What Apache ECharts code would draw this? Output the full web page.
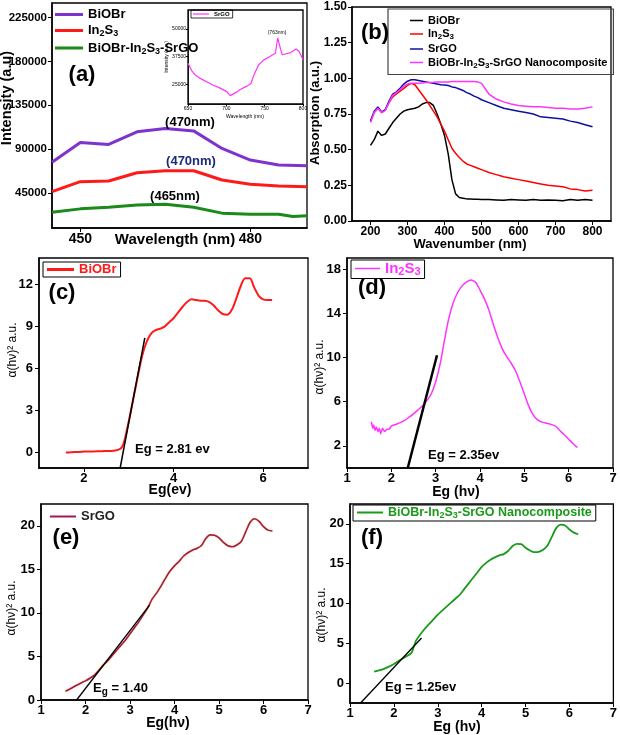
<!DOCTYPE html>
<html><head><meta charset="utf-8">
<script src="https://cdn.jsdelivr.net/npm/echarts@6/dist/echarts.min.js"></script>
<style>html,body{margin:0;padding:0;background:#fff}#c{width:620px;height:735px}</style>
</head><body><div id="c"></div>
<script>
// ---------- Panel (a): PL spectra ----------
const aWave = [445,450,455,460,465,470,475,480,485,490];
const aBiOBr = [76400,96850,94800,107700,111170,108700,90700,78750,73640,72900];
const aIn2S3 = [46330,56560,57270,65760,67800,67800,58300,53900,52160,51440];
const aWaveComp = [445,450,455,460,465,470,475,480,485,487.5,490];
const aComp = [25260,28640,30380,32730,33440,30380,24240,23220,23220,20760,21480];
const aXTicks = [450,480];
const aYTicks = [45000,90000,135000,180000,225000];
// inset
const insetWave = [650,655,660,666,675,683,692,701,705,714,718,727,732,736,742,749,758,764,767,771,773,784,791,795,800];
const insetSrGO = [34500,31000,29000,27600,26000,24500,23200,21500,19800,21500,22600,24100,25300,29100,33700,36000,37800,39000,45900,40500,38300,39300,40900,39800,36000];
const insetXTicks = [650,700,750,800];
const insetYTicks = [25000,37500,50000];
// ---------- Panel (b): absorption ----------
const bWave = [200,210,220,230,240,250,260,270,280,290,300,310,320,330,340,350,360,370,380,390,400,410,420,430,440,450,460,470,480,490,500,520,540,560,580,600,620,640,660,680,700,720,740,760,780,800];
const bBiOBr = [0.53,0.57,0.63,0.60,0.61,0.65,0.69,0.72,0.75,0.77,0.78,0.785,0.79,0.80,0.82,0.83,0.83,0.81,0.75,0.68,0.60,0.47,0.29,0.19,0.165,0.16,0.155,0.155,0.153,0.152,0.15,0.15,0.148,0.145,0.15,0.148,0.145,0.15,0.145,0.148,0.145,0.142,0.15,0.145,0.15,0.145];
const bIn2S3 = [0.70,0.76,0.79,0.76,0.78,0.83,0.87,0.89,0.91,0.93,0.95,0.965,0.955,0.92,0.885,0.85,0.81,0.77,0.73,0.68,0.63,0.57,0.51,0.475,0.445,0.42,0.40,0.39,0.38,0.37,0.36,0.34,0.325,0.31,0.30,0.29,0.28,0.27,0.26,0.25,0.245,0.24,0.225,0.22,0.21,0.215];
const bSrGO = [0.70,0.77,0.80,0.765,0.78,0.84,0.89,0.905,0.93,0.96,0.98,0.99,0.99,0.985,0.98,0.975,0.97,0.965,0.96,0.955,0.954,0.95,0.94,0.935,0.925,0.915,0.90,0.89,0.875,0.865,0.85,0.83,0.81,0.79,0.78,0.77,0.76,0.75,0.73,0.725,0.72,0.715,0.70,0.69,0.675,0.66];
const bComp = [0.69,0.76,0.79,0.76,0.775,0.83,0.88,0.90,0.92,0.945,0.96,0.965,0.965,0.965,0.968,0.97,0.97,0.972,0.975,0.975,0.975,0.975,0.978,0.978,0.978,0.978,0.978,0.978,0.978,0.975,0.965,0.89,0.855,0.835,0.82,0.81,0.805,0.80,0.80,0.795,0.79,0.79,0.785,0.785,0.79,0.80];
const bXTicks = [200,300,400,500,600,700,800];
const bYTicks = [0,0.25,0.5,0.75,1.0,1.25,1.5];
// ---------- Panel (c): BiOBr Tauc ----------
const cEg = [1.6,1.8,2.0,2.2,2.4,2.6,2.7,2.8,2.85,2.9,3.0,3.1,3.2,3.3,3.4,3.5,3.6,3.7,3.8,3.9,4.0,4.1,4.2,4.3,4.4,4.5,4.6,4.7,4.8,4.9,5.0,5.1,5.2,5.3,5.4,5.5,5.6,5.7,5.8,5.9,6.0,6.1,6.2];
const cVal = [0.0,0.05,0.07,0.08,0.1,0.12,0.15,0.25,0.4,0.8,2.2,3.8,5.4,6.9,7.9,8.5,8.75,8.85,9.0,9.3,9.6,10.0,10.4,10.75,10.95,10.9,10.85,10.85,10.75,10.5,10.15,9.9,9.85,10.2,11.0,11.9,12.45,12.45,11.8,11.2,10.95,10.9,10.9];
const cTanX = [2.81,3.36], cTanY = [-1.1,8.2];
const cXTicks = [2,4,6], cYTicks = [0,3,6,9,12];
// ---------- Panel (d): In2S3 Tauc ----------
const dEg = [1.55,1.58,1.6,1.63,1.66,1.7,1.73,1.76,1.8,1.85,1.9,1.95,2.0,2.1,2.2,2.3,2.4,2.5,2.6,2.7,2.8,2.9,3.0,3.1,3.2,3.3,3.4,3.5,3.6,3.7,3.8,3.9,4.0,4.1,4.2,4.3,4.4,4.5,4.6,4.7,4.8,4.9,5.0,5.1,5.2,5.3,5.4,5.5,5.6,5.7,5.8,5.9,6.0,6.1,6.2];
const dVal = [4.2,3.6,3.9,3.4,3.7,3.3,3.6,3.1,3.6,3.3,3.5,3.5,3.8,3.95,4.1,4.3,4.6,4.9,5.25,5.6,6.1,6.7,7.8,9.4,11.6,13.6,15.0,15.9,16.5,16.85,17.0,16.8,16.1,15.3,14.3,13.0,11.8,10.8,10.1,9.5,8.8,7.8,6.7,5.6,4.8,4.35,4.15,4.05,3.95,3.8,3.4,3.0,2.6,2.2,1.85];
const dTanX = [2.37,3.03], dTanY = [0,10.2];
const dXTicks = [1,2,3,4,5,6,7], dYTicks = [2,6,10,14,18];
// ---------- Panel (e): SrGO Tauc ----------
const eEg = [1.55,1.7,1.8,1.9,2.0,2.1,2.2,2.3,2.4,2.5,2.6,2.7,2.8,2.9,3.0,3.1,3.2,3.3,3.4,3.5,3.6,3.7,3.8,3.9,4.0,4.1,4.2,4.3,4.4,4.5,4.6,4.7,4.8,4.9,5.0,5.1,5.2,5.3,5.4,5.5,5.6,5.7,5.8,5.9,6.0,6.1,6.2];
const eVal = [1.0,1.4,1.7,1.95,2.2,2.5,2.85,3.4,4.0,4.5,5.1,5.7,6.3,6.9,7.6,8.3,9.0,9.8,10.6,11.6,12.3,13.1,14.0,14.8,15.4,15.9,16.5,16.9,17.2,17.4,17.7,18.5,18.95,18.9,18.6,18.1,17.7,17.6,17.8,18.2,19.3,20.4,20.8,20.5,19.9,19.5,19.4];
const eTanX = [1.80,3.44], eTanY = [0,10.9];
const eXTicks = [1,2,3,4,5,6,7], eYTicks = [0,5,10,15,20];
// ---------- Panel (f): nanocomposite Tauc ----------
const fEg = [1.55,1.7,1.8,1.9,2.0,2.1,2.2,2.3,2.4,2.45,2.5,2.6,2.7,2.8,2.9,3.0,3.1,3.2,3.3,3.4,3.5,3.6,3.7,3.8,3.9,4.0,4.1,4.2,4.3,4.4,4.5,4.6,4.7,4.8,4.9,5.0,5.1,5.2,5.3,5.4,5.5,5.6,5.7,5.8,5.9,6.0,6.1,6.2];
const fVal = [1.45,1.65,1.85,2.1,2.4,2.75,3.1,3.4,3.8,4.5,5.3,6.1,6.8,7.4,8.0,8.6,9.1,9.6,10.1,10.6,11.1,11.8,12.5,13.2,13.9,14.6,15.1,15.5,15.8,16.05,16.2,16.6,17.2,17.5,17.45,17.0,16.65,16.45,16.5,16.75,17.3,18.4,19.5,19.9,19.8,19.3,18.9,18.7];
const fTanX = [1.24,2.63], fTanY = [-2.5,5.67];
const fXTicks = [1,2,3,4,5,6,7], fYTicks = [0,5,10,15,20];

// legend display texts
const legendText = {
  a_BiOBr:'BiOBr', a_In2S3:'In{sub|2}S{sub|3}', a_comp:'BiOBr-In{sub|2}S{sub|3}-SrGO',
  in_SrGO:'SrGO',
  b_BiOBr:'BiOBr', b_In2S3:'In{sub|2}S{sub|3}', b_SrGO:'SrGO', b_comp:'BiOBr-In{sub|2}S{sub|3}-SrGO Nanocomposite',
  c_BiOBr:'BiOBr', d_In2S3:'In{sub|2}S{sub|3}', e_SrGO:'SrGO', f_comp:'BiOBr-In{sub|2}S{sub|3}-SrGO Nanocomposite'
};

const FONT = 'Liberation Sans';
function pairs(xs, ys){ return xs.map((x,i)=>[x, ys[i]]); }

const grids = [
  {left:52, top:3, width:255, height:225},
  {left:188, top:10, width:115, height:94},
  {left:352, top:7, width:259, height:214},
  {left:39, top:258, width:269, height:210},
  {left:347, top:258, width:266, height:210},
  {left:41, top:504, width:267, height:196},
  {left:350, top:504, width:264, height:199}
].map(g => Object.assign({show:true, borderColor:'#000', borderWidth:1.3, containLabel:false}, g));

function axis(gi, min, max, ticks, o) {
  o = o || {};
  return {
    type:'value', gridIndex:gi, min:min, max:max,
    splitLine:{show:false},
    axisLine:{show:true, onZero:false, lineStyle:{color:'#000', width:o.lw||1.5}},
    axisTick:{show:true, customValues:ticks, length:o.tl||4, lineStyle:{color:'#000', width:1}},
    axisLabel:{customValues:ticks, color:'#000', fontFamily:FONT, fontWeight:o.fw||'bold', fontSize:o.fs||13, margin:o.m||4, formatter:o.fmt||(v=>String(v))}
  };
}

const xAxes = [
  axis(0, 445, 490, aXTicks, {fs:14, m:4}),
  axis(1, 650, 800, insetXTicks, {fs:5, fw:'normal', tl:2, lw:0.8, m:2}),
  axis(2, 150, 850, bXTicks, {fs:12, m:5}),
  axis(3, 1, 7, cXTicks, {fs:13}),
  axis(4, 1, 7, dXTicks, {fs:13}),
  axis(5, 1, 7, eXTicks, {fs:13}),
  axis(6, 1, 7, fXTicks, {fs:13})
];
const yAxes = [
  axis(0, 9000, 240000, aYTicks, {fs:11.5, m:5}),
  axis(1, 16000, 58600, insetYTicks, {fs:5, fw:'normal', tl:2, lw:0.8, m:2}),
  axis(2, 0, 1.5, bYTicks, {fs:12, m:5, fmt:v=>v.toFixed(2)}),
  axis(3, -1.1, 13.9, cYTicks, {fs:13, m:6}),
  axis(4, 0, 19, dYTicks, {fs:13, m:6}),
  axis(5, 0, 22.5, eYTicks, {fs:13, m:6}),
  axis(6, -2.5, 22.5, fYTicks, {fs:13, m:6})
];

function line(name, gi, xs, ys, color, width, extra) {
  return Object.assign({
    type:'line', name:name, xAxisIndex:gi, yAxisIndex:gi, data:pairs(xs, ys),
    symbol:'none', showSymbol:false, animation:false,
    lineStyle:{color:color, width:width}, itemStyle:{color:color}
  }, extra||{});
}

const series = [
  line('a_BiOBr', 0, aWave, aBiOBr, '#8033cc', 3),
  line('a_In2S3', 0, aWave, aIn2S3, '#ff1a1a', 3),
  line('a_comp', 0, aWaveComp, aComp, '#1a8a1a', 3),
  line('in_SrGO', 1, insetWave, insetSrGO, '#ff33ff', 1.2),
  line('b_BiOBr', 2, bWave, bBiOBr, '#000000', 1.5),
  line('b_In2S3', 2, bWave, bIn2S3, '#ff0000', 1.5),
  line('b_SrGO', 2, bWave, bSrGO, '#1010a0', 1.5),
  line('b_comp', 2, bWave, bComp, '#ff33ff', 1.5),
  line('c_BiOBr', 3, cEg, cVal, '#ff1a1a', 2, {smooth:0.3}),
  line('c_tan', 3, cTanX, cTanY, '#000000', 1.5),
  line('d_In2S3', 4, dEg, dVal, '#ff33ff', 1.5, {smooth:0.2}),
  line('d_tan', 4, dTanX, dTanY, '#000000', 2.5),
  line('e_SrGO', 5, eEg, eVal, '#a0185a', 1.6, {smooth:0.3, lineStyle:{color:'#a0185a', width:1.6, shadowColor:'rgba(255,220,80,0.9)', shadowBlur:2}}),
  line('e_tan', 5, eTanX, eTanY, '#000000', 1.3),
  line('f_comp', 6, fEg, fVal, '#1a9a1a', 1.8, {smooth:0.3}),
  line('f_tan', 6, fTanX, fTanY, '#000000', 1.3)
];

function sub(color, size, pad) { return {sub:{fontSize:size, fontWeight:'bold', fontFamily:FONT, color:color, padding:[pad,0,0,0]}}; }
function legend(o) {
  return Object.assign({
    orient:'vertical', selectedMode:false, formatter:n=>legendText[n], icon:'rect',
    itemGap:3, itemHeight:3, padding:2, backgroundColor:'transparent'
  }, o);
}
const legends = [
  legend({left:53, top:6, itemWidth:28, itemHeight:3, itemGap:3, data:['a_BiOBr','a_In2S3','a_comp'],
    textStyle:{fontFamily:FONT, fontWeight:'bold', fontSize:13, color:'#000', rich:sub('#000',9,7)}}),
  legend({left:191, top:10, itemWidth:16, itemHeight:1.2, padding:[1,3,1,2], borderColor:'#000', borderWidth:0.8, data:['in_SrGO'],
    textStyle:{fontFamily:FONT, fontWeight:'bold', fontSize:6, color:'#000'}}),
  legend({left:388, top:9, itemWidth:13, itemHeight:1.5, itemGap:2.5, padding:[6,6,5,22], borderColor:'#444', borderWidth:1.2,
    data:['b_BiOBr','b_In2S3','b_SrGO','b_comp'],
    textStyle:{fontFamily:FONT, fontWeight:'bold', fontSize:11, color:'#000', rich:sub('#000',8,6)}}),
  legend({left:43, top:262, itemWidth:27, itemHeight:3, padding:[1,4,1,4], borderColor:'#000', borderWidth:1, data:['c_BiOBr'],
    textStyle:{fontFamily:FONT, fontWeight:'bold', fontSize:13, color:'#ff1a1a'}}),
  legend({left:351, top:260, itemWidth:25, itemHeight:1.5, padding:[1,4,1,4], borderColor:'#000', borderWidth:1, data:['d_In2S3'],
    textStyle:{fontFamily:FONT, fontWeight:'bold', fontSize:15, color:'#ff33ff', rich:sub('#ff33ff',11,7)}}),
  legend({left:48, top:508, itemWidth:26, itemHeight:2, padding:2, data:['e_SrGO'],
    textStyle:{fontFamily:FONT, fontWeight:'bold', fontSize:13, color:'#222'}}),
  legend({left:353, top:505, itemWidth:26, itemHeight:2, padding:[1,4,1,4], borderColor:'#000', borderWidth:1, data:['f_comp'],
    textStyle:{fontFamily:FONT, fontWeight:'bold', fontSize:12.5, color:'#1a9a1a', rich:sub('#1a9a1a',9,6)}})
];

function txt(text, x, y, size, opts) {
  opts = opts || {};
  return {type:'text', x:x, y:y, rotation:opts.rot||0, z:100, silent:true,
    style:{text:text, fill:opts.color||'#000', fontFamily:FONT, fontSize:size, fontWeight:opts.w||'bold',
      align:opts.align||'center', verticalAlign:'middle', rich:opts.rich}};
}
const R = Math.PI/2;
const alpha = 'α(hν)² a.u.';
const graphics = [
  txt('(a)', 82, 75, 22),
  txt('(470nm)', 190, 122, 13),
  txt('(470nm)', 191, 161, 13, {color:'#1c2a7a'}),
  txt('(465nm)', 175, 196, 13),
  txt('(763nm)', 277, 33, 5, {w:'normal'}),
  txt('Intensity (a.u)', 7, 98, 14.5, {rot:R}),
  txt('Wavelength (nm)', 175, 240, 15),
  txt('Intensity (a.u.)', 167, 57, 5, {rot:R, w:'normal'}),
  txt('Wavelength (nm)', 245, 117, 5, {w:'normal'}),
  txt('(b)', 375, 33, 22),
  txt('Absorption (a.u.)', 315, 113, 13, {rot:R}),
  txt('Wavenumber (nm)', 470, 244, 13),
  txt('(c)', 62, 293, 22),
  txt(alpha, 13, 350, 12, {rot:R, w:'normal'}),
  txt('Eg(ev)', 170, 490, 14),
  txt('Eg = 2.81 ev', 135, 449, 13, {align:'left'}),
  txt('(d)', 372, 288, 22),
  txt(alpha, 320, 367, 12, {rot:R, w:'normal'}),
  txt('Eg (hν)', 456, 492, 14),
  txt('Eg = 2.35ev', 428, 455, 13, {align:'left'}),
  txt('(e)', 66, 538, 22),
  txt(alpha, 12, 608, 12, {rot:R, w:'normal'}),
  txt('Eg(hν)', 168, 723, 14),
  txt('E{sub|g} = 1.40', 93, 688, 13, {align:'left', rich:sub('#000',10,8)}),
  txt('(f)', 372, 538, 22),
  txt(alpha, 322, 615, 12, {rot:R, w:'normal'}),
  txt('Eg (hν)', 457, 727, 14),
  txt('Eg = 1.25ev', 385, 687, 13, {align:'left'})
];

const chart = echarts.init(document.getElementById('c'), null, {renderer:'canvas', width:620, height:735});
chart.setOption({
  backgroundColor:'#fff', animation:false,
  grid:grids, xAxis:xAxes, yAxis:yAxes, series:series, legend:legends, graphic:graphics
});
</script></body></html>
